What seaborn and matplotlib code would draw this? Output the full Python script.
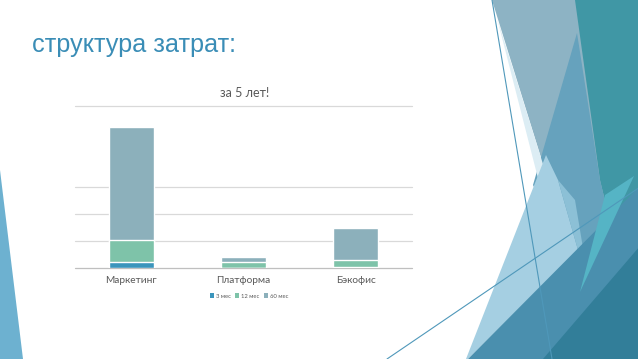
import numpy as np
import pandas as pd
import seaborn as sns
import matplotlib.pyplot as plt
from matplotlib.patches import Polygon, Patch
from matplotlib.lines import Line2D

# Data (units = one gridline step)
categories = ["Маркетинг", "Платформа", "Бэкофис"]
series_names = ["3 мес", "12 мес", "60 мес"]
cost_3m = [0.22, 0.01, 0.05]
cost_12m = [0.83, 0.20, 0.26]
cost_60m = [4.16, 0.21, 1.19]
grid_levels = [0, 1, 2, 3, 6]

colors = {"3 мес": "#3b95bc", "12 мес": "#7ec3a9", "60 мес": "#8cb0bb"}

df = pd.DataFrame({"cat": categories, "3 мес": cost_3m,
                   "12 мес": cost_12m, "60 мес": cost_60m})
df["c3"] = df["3 мес"]
df["c12"] = df["c3"] + df["12 мес"]
df["c60"] = df["c12"] + df["60 мес"]

sns.set_theme(style="white")
plt.rcParams["font.family"] = ["Lato", "DejaVu Sans"]

W, H = 638, 359
fig = plt.figure(figsize=(W / 100, H / 100), dpi=100)
fig.patch.set_facecolor("white")


def px(pts):
    return [(x / W, 1 - y / H) for x, y in pts]


# slide decoration (background shapes), pixel coords, y down
decor = [
    ([(0, 170), (0, 359), (23, 359)], "#6db1d0", 1),
    ([(492, 0), (640, 0), (640, 359), (560, 359), (548, 180)], "#8db3c4", 1),
    ([(575, 0), (640, 0), (640, 359), (610, 359), (612, 230), (600, 180)], "#4097a5", 1),
    ([(577, 33), (600, 180), (612, 230), (590, 300), (533, 185)], "#66a2bd", 1),
    ([(497, 18), (548, 180), (541, 190)], "#dcedf4", 1),
    ([(546, 155), (558, 180), (578, 250), (468, 359), (466, 359)], "#a5cfe2", 1),
    ([(558, 180), (575, 200), (590, 290), (578, 250)], "#8cc0d6", 1),
    ([(468, 359), (640, 186), (640, 359)], "#4a8fae", 1),
    ([(605, 195), (634, 176), (580, 292)], "#55b4c5", 1),
    ([(543, 359), (640, 246), (640, 359)], "#327e99", 1),
]
for pts, col, a in decor:
    fig.add_artist(Polygon(px(pts), closed=True, facecolor=col, edgecolor="none",
                           alpha=a, transform=fig.transFigure, zorder=0))
for (x0, y0), (x1, y1) in [((492, 0), (552, 359)), ((387, 359), (640, 187))]:
    fig.add_artist(Line2D([x0 / W, x1 / W], [1 - y0 / H, 1 - y1 / H], color="#4f98ba",
                          lw=0.8, transform=fig.transFigure, zorder=1))

fig.text(32 / W, 1 - 45 / H, "структура затрат:", fontsize=18.2, color="#3a8db6",
         family=["Liberation Sans", "DejaVu Sans"], va="center", ha="left")

ax = fig.add_axes([75 / W, 1 - 268 / H, 337 / W, 162 / H])
ax.set_facecolor("none")

# stacked bars: draw cumulative totals, tallest first
for col, key in [("c60", "60 мес"), ("c12", "12 мес"), ("c3", "3 мес")]:
    sns.barplot(data=df, x="cat", y=col, color=colors[key], width=0.4,
                saturation=1, ax=ax, zorder=3)

ax.set_ylim(0, 6)
ax.set_xlim(-0.5, 2.5)
ax.set_yticks(grid_levels)
ax.set_yticklabels([])
for lv in grid_levels:
    ax.axhline(lv, color="#bfbfbf" if lv == 0 else "#d9d9d9", lw=0.9, zorder=1,
               clip_on=False)
sns.despine(ax=ax, left=True, bottom=True, top=True, right=True)
ax.set_xlabel("")
ax.set_ylabel("")
ax.tick_params(axis="x", length=0, pad=6, labelsize=7.3, labelcolor="#595959")
ax.tick_params(axis="y", length=0)

fig.text(245 / W, 1 - 93 / H, "за 5 лет!", fontsize=9, color="#595959",
         ha="center", va="center")

handles = [Patch(facecolor=colors[n], edgecolor="none") for n in series_names]
leg = fig.legend(handles, series_names, loc="center", bbox_to_anchor=(249 / W, 1 - 296 / H),
                 ncol=3, fontsize=4.2, frameon=False, handlelength=0.7, handleheight=0.7,
                 handletextpad=0.3, columnspacing=0.8, borderpad=0)
for t in leg.get_texts():
    t.set_color("#595959")

fig.savefig("out.png", dpi=100)
